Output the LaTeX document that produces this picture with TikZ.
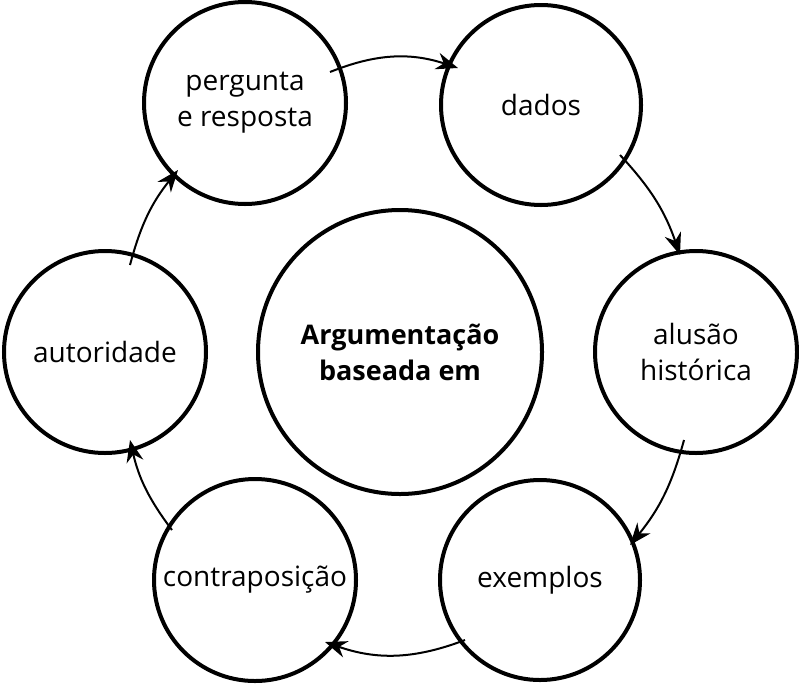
\documentclass[tikz,border=0pt]{standalone}
\usepackage{fontspec}
\setmainfont{Open Sans}
\usetikzlibrary{arrows.meta}
\begin{document}
\begin{tikzpicture}[x=1pt,y=-1pt,
  circ/.style={draw,circle,line width=4pt,inner sep=0pt,align=center,font=\fontsize{28}{36}\selectfont},
  conn/.style={line width=2pt,-{Stealth[length=22pt,width=17pt]}}]
\useasboundingbox (0,0) rectangle (799,683);
\node[circ,minimum size=202pt] (p) at (245,103) {pergunta\\e resposta};
\node[circ,minimum size=200pt] (d) at (541,105) {dados};
\node[circ,minimum size=202pt] (a) at (696,352) {alusão\\histórica};
\node[circ,minimum size=200pt] (e) at (540,580) {exemplos};
\node[circ,minimum size=202pt] (c) at (255,580) {contraposição};
\node[circ,minimum size=202pt] (u) at (105,352) {autoridade};
\node[circ,minimum size=284pt,font=\fontsize{27}{36}\selectfont\bfseries] (m) at (400,352) {Argumentação\\baseada em};
\coordinate (p1) at (330,72); \coordinate (p2) at (458,68);
\coordinate (d1) at (620,155); \coordinate (d2) at (680,255);
\coordinate (a1) at (684,440); \coordinate (a2) at (630,545);
\coordinate (e1) at (465,640); \coordinate (e2) at (325,642);
\coordinate (c1) at (172,530); \coordinate (c2) at (130,440);
\coordinate (u1) at (130,265); \coordinate (u2) at (178,170);
\draw[conn] (p1) to[bend left=20] (p2);
\draw[conn] (d1) to[bend left=12] (d2);
\draw[conn] (a1) to[bend left=12] (a2);
\draw[conn] (e1) to[bend left=20] (e2);
\draw[conn] (c1) to[bend left=12] (c2);
\draw[conn] (u1) to[bend left=12] (u2);
\end{tikzpicture}
\end{document}
